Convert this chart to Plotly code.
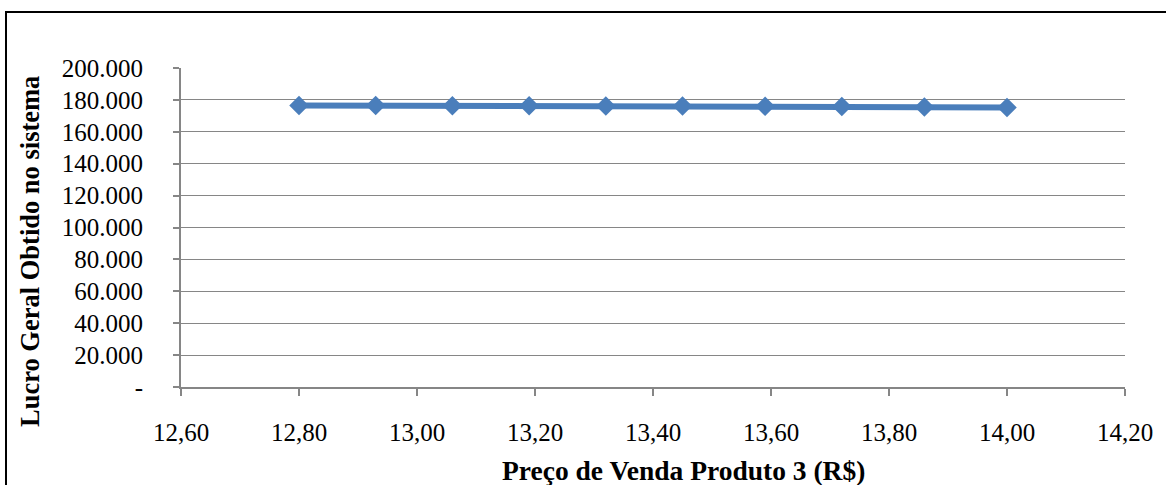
import plotly.graph_objects as go

# Sale price of product 3 (R$) and total system profit
preco = [12.80, 12.93, 13.06, 13.19, 13.32, 13.45, 13.59, 13.72, 13.86, 14.00]
lucro = [176500, 176450, 176400, 176300, 176200, 176100, 176000, 175800, 175500, 175200]

x_ticks = [12.6, 12.8, 13.0, 13.2, 13.4, 13.6, 13.8, 14.0, 14.2]
x_labels = ["12,60", "12,80", "13,00", "13,20", "13,40", "13,60", "13,80", "14,00", "14,20"]
y_ticks = [0, 20000, 40000, 60000, 80000, 100000, 120000, 140000, 160000, 180000, 200000]
y_labels = ["-", "20.000", "40.000", "60.000", "80.000", "100.000", "120.000",
            "140.000", "160.000", "180.000", "200.000"]

W, H = 1166, 485
ML, MR, MT, MB = 181, 41, 68, 98
pw, ph = W - ML - MR, H - MT - MB


def px_x(p):
    return (p - ML) / pw


def px_y(p):
    return ((H - MB) - p) / ph


fig = go.Figure(go.Scatter(
    x=preco, y=lucro, mode="lines+markers",
    line=dict(color="#4A7EBB", width=6),
    marker=dict(symbol="diamond", size=15, color="#4A7EBB"),
))

SERIF = "Liberation Serif, Times New Roman, serif"
font = dict(family=SERIF, size=25, color="black")

fig.update_layout(
    width=W, height=H,
    margin=dict(l=ML, r=MR, t=MT, b=MB, pad=0, autoexpand=False),
    paper_bgcolor="white", plot_bgcolor="white",
    showlegend=False,
    font=font,
    xaxis=dict(
        range=[12.6, 14.2], tickvals=x_ticks, ticktext=x_labels,
        showgrid=False, zeroline=False, automargin=False,
        showline=True, linecolor="#868686", linewidth=2,
        ticks="outside", ticklen=7, tickcolor="#868686", tickwidth=2,
        ticklabelstandoff=15,
    ),
    yaxis=dict(
        range=[0, 200000], tickvals=y_ticks, ticktext=y_labels,
        showgrid=True, gridcolor="#868686", gridwidth=1.3, zeroline=False, automargin=False,
        showline=True, linecolor="#868686", linewidth=2,
        ticks="outside", ticklen=6, tickcolor="#868686", tickwidth=2,
        ticklabelstandoff=25,
    ),
    annotations=[
        dict(text="<b>Preço de Venda Produto 3 (R$)</b>", xref="paper", yref="paper",
             x=px_x(683), y=px_y(470), xanchor="center", yanchor="middle",
             showarrow=False, font=dict(family=SERIF, size=27.5, color="black")),
        dict(text="<b>Lucro Geral Obtido no sistema</b>", xref="paper", yref="paper",
             x=px_x(30), y=px_y(252), xanchor="center", yanchor="middle", textangle=-90,
             showarrow=False, font=dict(family=SERIF, size=26.5, color="black")),
    ],
    shapes=[dict(
        type="rect", xref="paper", yref="paper",
        x0=px_x(6), x1=px_x(W + 10),
        y0=px_y(H + 10), y1=px_y(12),
        line=dict(color="black", width=2), fillcolor="rgba(0,0,0,0)", layer="above",
    )],
)

fig.write_html("out.html")
